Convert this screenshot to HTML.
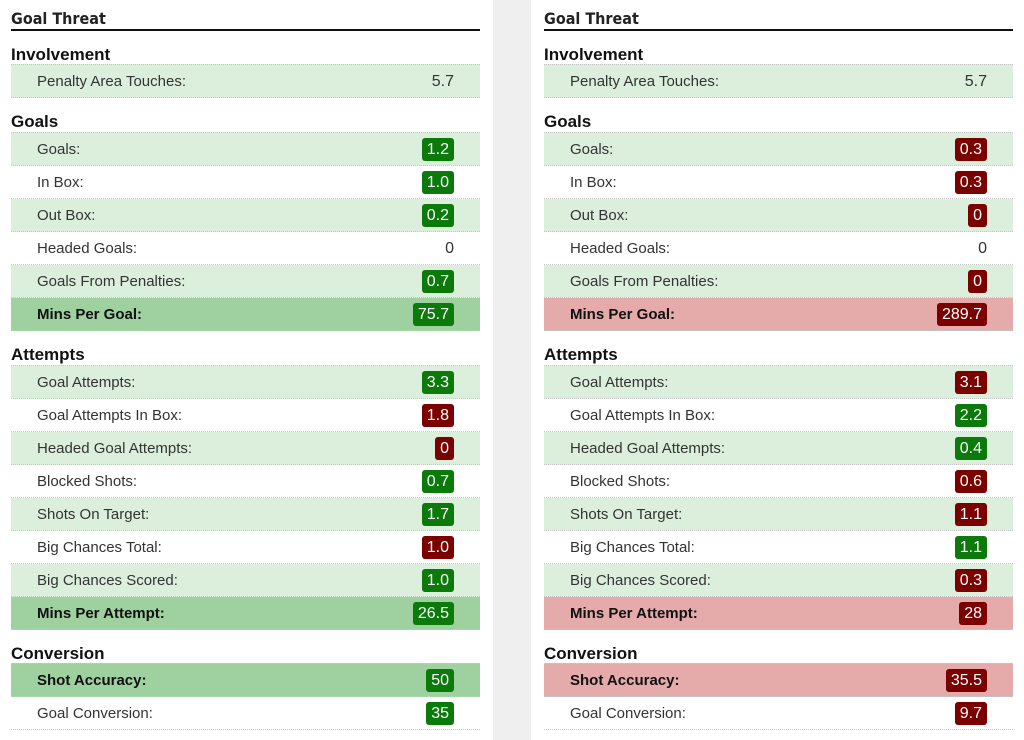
<!DOCTYPE html>
<html><head><meta charset="utf-8"><style>
body{margin:0;width:1024px;height:740px;background:#fff;position:relative;overflow:hidden;font-family:"Liberation Sans",Arial,sans-serif;}
.gap{position:absolute;left:493px;top:0;width:38px;height:740px;background:#efefef;}
.panel{position:absolute;top:0;width:469px;height:740px;}
.title{position:absolute;left:0;top:9px;width:469px;height:20px;border-bottom:2px solid #111;font-family:"Liberation Sans Narrow","DejaVu Sans Condensed","Liberation Sans",sans-serif;font-weight:bold;font-size:16px;color:#222;}
.sec{position:absolute;left:0;width:469px;font-weight:bold;font-size:17px;color:#111;}
.row{position:absolute;left:0;width:469px;height:32px;border-bottom:1px dotted #c8c8c8;box-sizing:content-box;}
.row.first{border-top:1px dotted #c8c8c8;}
.row.alt{background:#dcefdc;}
.row.sg{background:#9fd09f;}
.row.sr{background:#e5abab;}
.lbl{position:absolute;left:26px;top:8px;font-size:15px;color:#333;}
.row.sg .lbl,.row.sr .lbl{font-weight:bold;color:#111;}
.val{position:absolute;right:26px;top:5px;height:23px;line-height:23px;font-size:16px;color:#333;padding:0 5px;border-radius:3px;}
.val.g{background:#0b7a0b;color:#fff;}
.val.r{background:#7b0000;color:#fff;}
</style></head><body>
<div class="gap"></div>
<div id="root"></div>
<script>
const sections=["Involvement","Goals","Attempts","Conversion"];
const labels=[["Penalty Area Touches:"],["Goals:","In Box:","Out Box:","Headed Goals:","Goals From Penalties:","Mins Per Goal:"],["Goal Attempts:","Goal Attempts In Box:","Headed Goal Attempts:","Blocked Shots:","Shots On Target:","Big Chances Total:","Big Chances Scored:","Mins Per Attempt:"],["Shot Accuracy:","Goal Conversion:"]];
const summary=[[0],[0,0,0,0,0,1],[0,0,0,0,0,0,0,1],[1,0]];
const leftVals=[["5.7"],["1.2","1.0","0.2","0","0.7","75.7"],["3.3","1.8","0","0.7","1.7","1.0","1.0","26.5"],["50","35"]];
const leftCol=[["n"],["g","g","g","n","g","g"],["g","r","r","g","g","r","g","g"],["g","g"]];
const rightVals=[["5.7"],["0.3","0.3","0","0","0","289.7"],["3.1","2.2","0.4","0.6","1.1","1.1","0.3","28"],["35.5","9.7"]];
const rightCol=[["n"],["r","r","r","n","r","r"],["r","g","g","r","r","g","r","r"],["r","r"]];
const headH=[34,35,35,34];
function build(x,vals,cols,side,good){
  const p=document.createElement('div');p.className='panel';p.style.left=x+'px';
  
  
  const t=document.createElement('div');t.className='title';t.textContent='Goal Threat';
  
  
  p.appendChild(t);
  let y=31;
  sections.forEach((s,i)=>{
    const h=document.createElement('div');h.className='sec';h.style.top=(y+14)+'px';h.textContent=s;
    
    
    p.appendChild(h);
    y+=headH[i];
    labels[i].forEach((l,j)=>{
      const r=document.createElement('div');
      let cls='row'+(j==0?' first':'');
      if(summary[i][j]) cls+=good?' sg':' sr'; else if(j%2==0) cls+=' alt';
      r.className=cls;r.style.top=(y-(j==0?1:0))+'px';
      
      
      const a=document.createElement('div');a.className='lbl';a.textContent=l;
      
      
      const v=document.createElement('div');v.className='val'+(cols[i][j]=='n'?'':' '+cols[i][j]);v.textContent=vals[i][j];
      if(cols[i][j]=='n')v.style.right='21px';
      
      
      r.appendChild(a);r.appendChild(v);p.appendChild(r);
      y+=33;
    });
  });
  document.getElementById('root').appendChild(p);
}
build(11,leftVals,leftCol,'left',true);
build(544,rightVals,rightCol,'right',false);
</script>
</body></html>
